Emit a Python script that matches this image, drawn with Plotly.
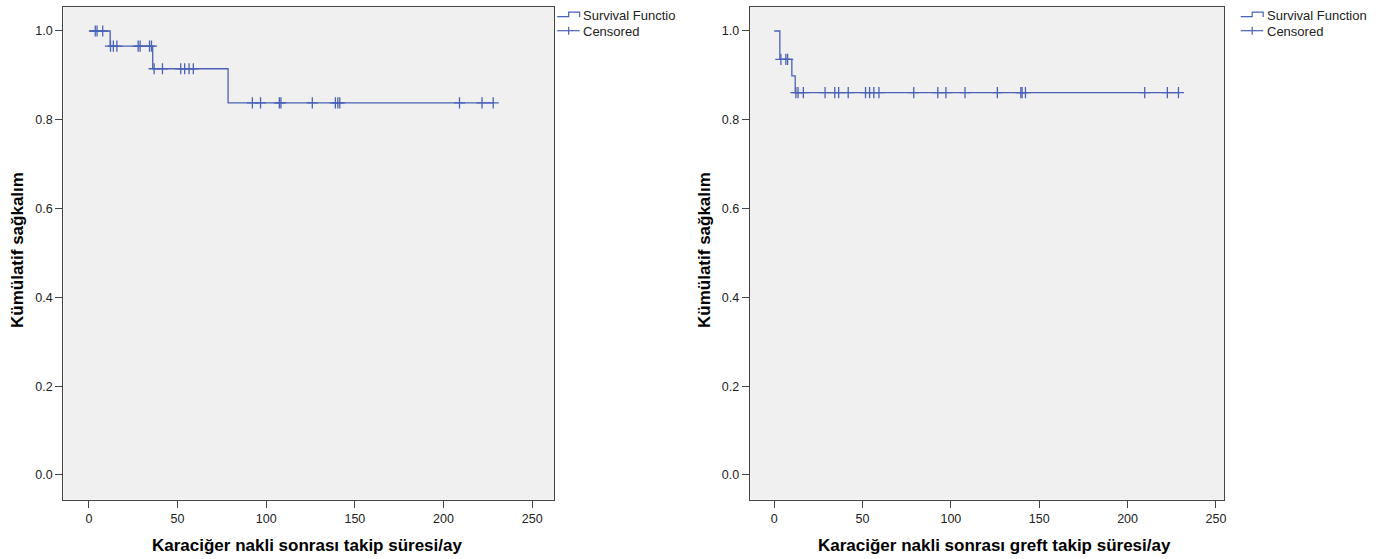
import plotly.graph_objects as go

# ---------------- data ----------------
# Left panel: patient follow-up
left_step_time = [0, 12.0, 36.0, 78.5, 228.0]
left_step_surv = [1.0, 0.966, 0.915, 0.838, 0.838]
left_cens_time = [3.6, 4.6, 7.8,
                  12.2, 13.8, 15.8, 27.8, 28.9, 34.2, 35.3,
                  36.8, 41.5, 51.8, 54.0, 56.5, 58.9,
                  92.2, 96.8, 107.4, 108.3, 126.0, 139.0, 140.4, 141.5, 209.0, 221.7, 228.0]
left_cens_surv = [1.0, 1.0, 1.0,
                  0.966, 0.966, 0.966, 0.966, 0.966, 0.966, 0.966,
                  0.915, 0.915, 0.915, 0.915, 0.915, 0.915,
                  0.838, 0.838, 0.838, 0.838, 0.838, 0.838, 0.838, 0.838, 0.838, 0.838, 0.838]

# Right panel: graft follow-up
right_step_time = [0, 3.2, 10.0, 11.9, 228.8]
right_step_surv = [1.0, 0.936, 0.899, 0.861, 0.861]
right_cens_time = [3.8, 6.6, 7.6,
                   12.3, 13.5, 16.5, 28.8, 34.3, 36.5, 41.9, 51.7, 54.0, 56.4, 59.3,
                   79.0, 92.6, 97.2, 108.0, 126.3, 139.6, 140.3, 142.2, 209.7, 222.5, 228.8]
right_cens_surv = [0.936, 0.936, 0.936,
                   0.861, 0.861, 0.861, 0.861, 0.861, 0.861, 0.861, 0.861, 0.861, 0.861, 0.861,
                   0.861, 0.861, 0.861, 0.861, 0.861, 0.861, 0.861, 0.861, 0.861, 0.861, 0.861]

x_tick_vals = [0, 50, 100, 150, 200, 250]
y_tick_vals = [0.0, 0.2, 0.4, 0.6, 0.8, 1.0]
y_tick_text = ["0.0", "0.2", "0.4", "0.6", "0.8", "1.0"]

y_title = "Kümülatif sağkalım"
left_x_title = "Karaciğer nakli sonrası takip süresi/ay"
right_x_title = "Karaciğer nakli sonrası greft takip süresi/ay"
left_legend = ["Survival Functio", "Censored"]
right_legend = ["Survival Function", "Censored"]

# ---------------- styling ----------------
W, H = 1384, 559
FONT = "Liberation Sans, Arial, sans-serif"
LINE_C = "#4a62b6"
FRAME_C = "#444444"
BG = "#f0f0f0"


def X(px):
    return px / W


def Y(py):
    return 1 - py / H


fig = go.Figure()

for xa, ya, st, ss, ct, cs in [
    ("x", "y", left_step_time, left_step_surv, left_cens_time, left_cens_surv),
    ("x2", "y2", right_step_time, right_step_surv, right_cens_time, right_cens_surv),
]:
    fig.add_trace(go.Scatter(x=st, y=ss, mode="lines", line=dict(shape="hv", color=LINE_C, width=1.3),
                             xaxis=xa, yaxis=ya, showlegend=False, name="Survival Function"))
    fig.add_trace(go.Scatter(x=ct, y=cs, mode="markers",
                             marker=dict(symbol="cross-thin", size=8, color=LINE_C,
                                         line=dict(color=LINE_C, width=1.3)),
                             xaxis=xa, yaxis=ya, showlegend=False, name="Censored"))

ydom = [Y(499.5), Y(6.7)]
axis_common = dict(showline=True, mirror=True, linecolor=FRAME_C, linewidth=1.3,
                   ticks="outside", ticklen=7, tickcolor=FRAME_C, tickwidth=1.3,
                   showgrid=False, zeroline=False,
                   tickfont=dict(family=FONT, size=12.5, color="#222222"))

fig.update_layout(
    width=W, height=H,
    margin=dict(l=0, r=0, t=0, b=0),
    paper_bgcolor="white",
    plot_bgcolor=BG,
    xaxis=dict(domain=[X(63.5), X(555)], range=[-14.36, 262.4], tickvals=x_tick_vals, anchor="y", **axis_common),
    yaxis=dict(domain=ydom, range=[-0.0552, 1.0547], tickvals=y_tick_vals, ticktext=y_tick_text, anchor="x", **axis_common),
    xaxis2=dict(domain=[X(751), X(1226)], range=[-13.73, 254.7], tickvals=x_tick_vals, anchor="y2", **axis_common),
    yaxis2=dict(domain=ydom, range=[-0.0552, 1.0547], tickvals=y_tick_vals, ticktext=y_tick_text, anchor="x2", **axis_common),
)

annotations = []
shapes = []

# axis titles
for cx, txt in [(307, left_x_title), (996, right_x_title)]:
    annotations.append(dict(x=X(cx), y=Y(545), xref="paper", yref="paper", text=f"<b>{txt}</b>",
                            showarrow=False, xanchor="center", yanchor="middle",
                            font=dict(family=FONT, size=17, color="black")))
for cx in [17, 705]:
    annotations.append(dict(x=X(cx), y=Y(250), xref="paper", yref="paper", text=f"<b>{y_title}</b>",
                            showarrow=False, xanchor="center", yanchor="middle", textangle=-90,
                            font=dict(family=FONT, size=17, color="black")))

# custom legends (SPSS style)
for x0, labels in [(558, left_legend), (1242.5, right_legend)]:
    path = (f"M {X(x0)} {Y(16.7)} L {X(x0 + 11.5)} {Y(16.7)} L {X(x0 + 11.5)} {Y(12.2)} "
            f"L {X(x0 + 22.5)} {Y(12.2)} L {X(x0 + 22.5)} {Y(17)}")
    shapes.append(dict(type="path", path=path, xref="paper", yref="paper",
                       line=dict(color=LINE_C, width=1.2)))
    shapes.append(dict(type="line", x0=X(x0), x1=X(x0 + 22.5), y0=Y(30.7), y1=Y(30.7),
                       xref="paper", yref="paper", line=dict(color=LINE_C, width=1.2)))
    shapes.append(dict(type="line", x0=X(x0 + 11.5), x1=X(x0 + 11.5), y0=Y(26.7), y1=Y(34.7),
                       xref="paper", yref="paper", line=dict(color=LINE_C, width=1.2)))
    for ty, lab in [(15.5, labels[0]), (31, labels[1])]:
        annotations.append(dict(x=X(x0 + 24), y=Y(ty), xref="paper", yref="paper", text=lab,
                                showarrow=False, xanchor="left", yanchor="middle",
                                font=dict(family=FONT, size=13, color="#222222")))

fig.update_layout(annotations=annotations, shapes=shapes)

fig.write_html("out.html")
